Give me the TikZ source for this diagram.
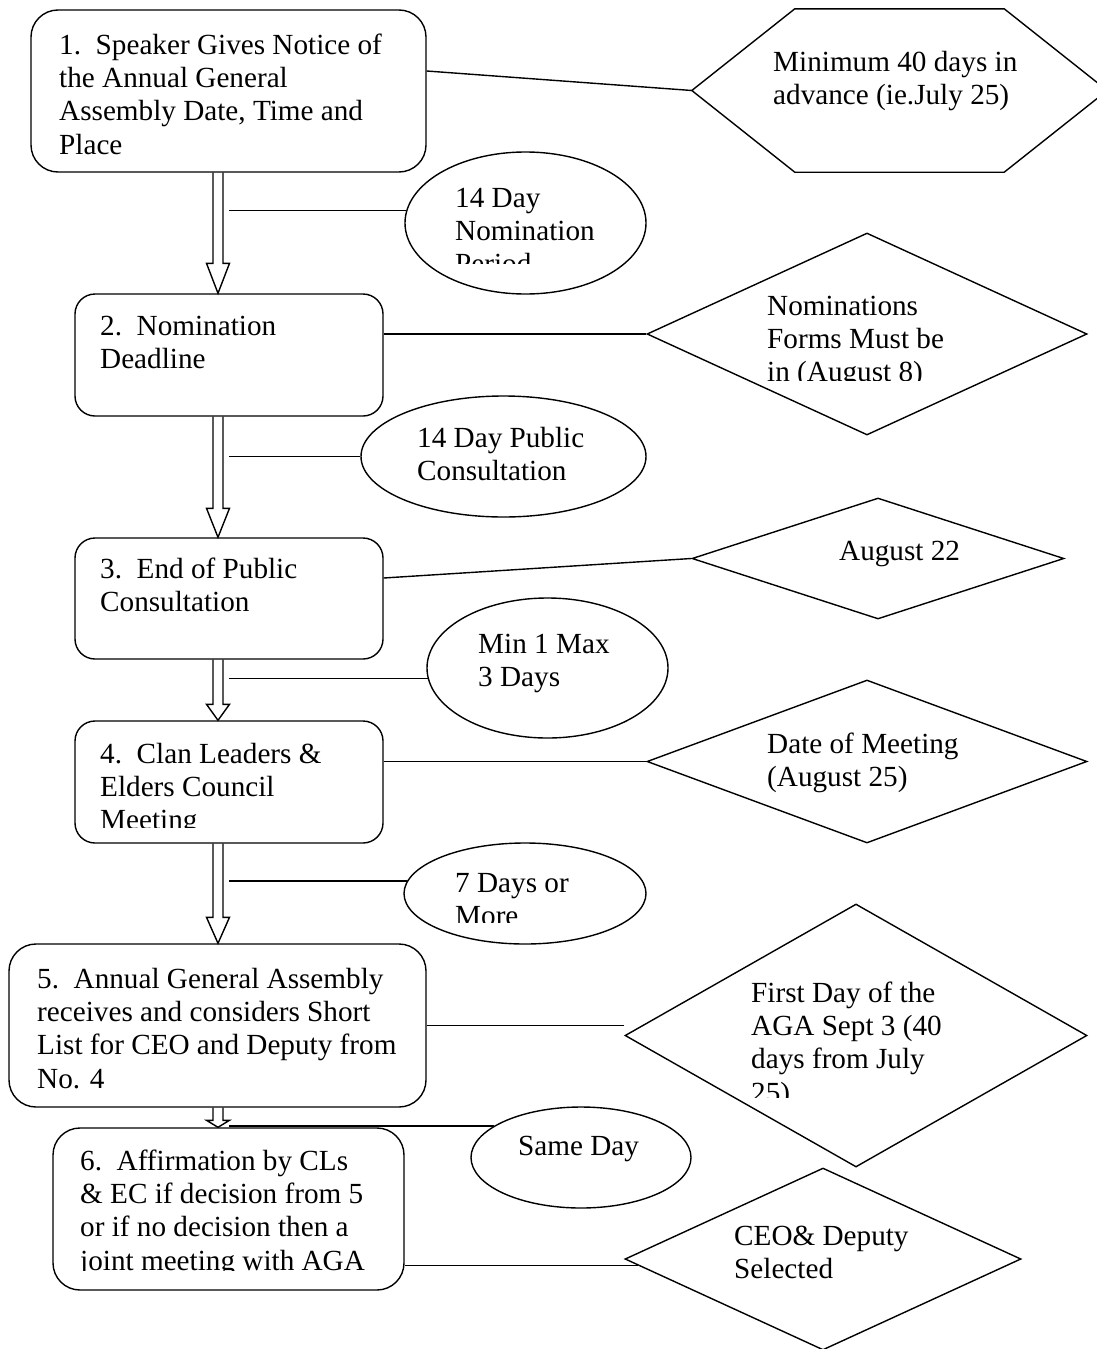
\documentclass[tikz,border=0pt]{standalone}
\usepackage{fontspec}
\setmainfont{Liberation Serif}
\usetikzlibrary{shapes.geometric,calc}
\newcommand\blockarrow[3]{%
  \draw[conn] ($(#1.south -| ax)+(-5,0)$) -- ($(#2.north -| ax)+(-5,-#3)$) -- ++(-6.5,0)
    -- (#2.north -| ax) -- ($(#2.north -| ax)+(11.5,-#3)$) -- ++(-6.5,0)
    -- ($(#1.south -| ax)+(5,0)$);}
\newcommand\topstrut{\rule{0pt}{24pt}}
\begin{document}
\begin{tikzpicture}[x=1pt,y=-1pt,
  conn/.style={line width=1.4pt, line join=miter},
  stepbox/.style={draw, line width=1.4pt, rectangle, inner sep=0pt},
  oval/.style={draw, line width=1.4pt, ellipse, inner sep=0pt},
  dia/.style={draw, line width=1.4pt, diamond, inner sep=0pt},
  txt/.style={anchor=north west, inner sep=0pt, align=left, font=\fontsize{29.2}{33.3}\selectfont}]
\useasboundingbox (0,0) rectangle (1097,1349);

% helper coordinates
\coordinate (ax) at (218,0);
\coordinate (sx) at (229,0);

% step boxes
\node[stepbox, rounded corners=27pt, minimum width=395pt, minimum height=162pt] (b1) at (228.5,91) {};
\node[stepbox, rounded corners=20pt, minimum width=308pt, minimum height=122pt] (b2) at (229,355) {};
\node[stepbox, rounded corners=20pt, minimum width=308pt, minimum height=121pt] (b3) at (229,598.5) {};
\node[stepbox, rounded corners=20pt, minimum width=308pt, minimum height=122pt] (b4) at (229,782) {};
\node[stepbox, rounded corners=27pt, minimum width=417pt, minimum height=163pt] (b5) at (217.5,1025.5) {};
\node[stepbox, rounded corners=27pt, minimum width=351pt, minimum height=162pt] (b6) at (228.5,1209) {};

% ellipses
\node[oval, minimum width=241pt, minimum height=142pt] (e1) at (525.5,223) {};
\node[oval, minimum width=285pt, minimum height=121pt] (e2) at (503.5,456.5) {};
\node[oval, minimum width=241pt, minimum height=140pt] (e3) at (547.5,668) {};
\node[oval, minimum width=242pt, minimum height=101pt] (e4) at (525,893.5) {};
\node[oval, minimum width=220pt, minimum height=101pt] (e5) at (581,1157.5) {};

% hexagon
\node[inner sep=0pt, minimum width=415pt, minimum height=163pt] (hx) at (899.5,90.5) {};
\draw[conn] (hx.west) -- ([xshift=103pt]hx.north west) -- ([xshift=-103pt]hx.north east)
  -- (hx.east) -- ([xshift=-103pt]hx.south east) -- ([xshift=103pt]hx.south west) -- cycle;

% diamonds
\node[dia, minimum width=440pt, minimum height=202pt] (d1) at (867,334) {};
\node[dia, minimum width=372pt, minimum height=121pt] (d2) at (878,558.5) {};
\node[dia, minimum width=440pt, minimum height=163pt] (d3) at (867,761.5) {};
\node[dia, minimum width=462pt, minimum height=263pt] (d4) at (856,1035.5) {};
\node[dia, minimum width=396pt, minimum height=182pt] (d5) at (823,1259) {};

% block arrows between steps
\blockarrow{b1}{b2}{30}
\blockarrow{b2}{b3}{29}
\blockarrow{b3}{b4}{16}
\blockarrow{b4}{b5}{26}
\blockarrow{b5}{b6}{7}

% lines from arrows to ellipses
\draw[conn] (e1.174.7 -| sx) -- (e1.174.7);
\draw[conn] (e2.west -| sx) -- (e2.west);
\draw[conn] (e3.185.8 -| sx) -- (e3.185.8);
\draw[conn] (e4.174.9 -| sx) -- (e4.174.9);
\draw[conn] (e5.160.9 -| sx) -- (e5.160.9);

% lines from boxes to hexagon / diamonds
\draw[conn] ([yshift=20pt]b1.east) -- (hx.west);
\draw[conn] (d1.west -| b2.east) -- (d1.west);
\draw[conn] ([yshift=20.5pt]b3.east) -- (d2.west);
\draw[conn] (d3.west -| b4.east) -- (d3.west);
\draw[conn] ([yshift=10pt]d4.west -| b5.east) -- ([yshift=10pt]d4.west);
\draw[conn] (d5.182.9 -| b6.east) -- (d5.182.9);

% texts
\node[txt] (tb1) at (59,30) {\topstrut 1.\ \ Speaker Gives Notice of\\the Annual General\\Assembly Date, Time and\\Place};
\node[txt] (thx) at (773,47) {\topstrut Minimum 40 days in\\advance (ie.July 25)};
\begin{scope}
  \clip (440,170) rectangle (660,263);
  \node[txt] (te1) at (455,183) {\topstrut 14 Day\\Nomination\\Period};
\end{scope}
\node[txt] (tb2) at (100,311) {\topstrut 2.\ \ Nomination\\Deadline};
\begin{scope}
  \clip (750,280) rectangle (1090,380);
  \node[txt] (td1) at (767,291) {\topstrut Nominations\\Forms Must be\\in (August 8)};
\end{scope}
\node[txt] (te2) at (417,423) {\topstrut 14 Day Public\\Consultation};
\node[txt] (tb3) at (100,554) {\topstrut 3.\ \ End of Public\\Consultation};
\node[txt] (td2) at (839,536) {\topstrut August 22};
\node[txt] (te3) at (478,629) {\topstrut Min 1 Max\\3 Days};
\begin{scope}
  \clip (90,730) rectangle (380,827);
  \node[txt] (tb4) at (100,739) {\topstrut 4.\ \ Clan Leaders \&\\Elders Council\\Meeting};
\end{scope}
\node[txt] (td3) at (767,729) {\topstrut Date of Meeting\\(August 25)};
\begin{scope}
  \clip (440,855) rectangle (660,922);
  \node[txt] (te4) at (455,868) {\topstrut 7 Days or\\More};
\end{scope}
\node[txt] (tb5) at (37,964) {\topstrut 5.\ \ Annual General Assembly\\receives and considers Short\\List for CEO and Deputy from\\No. 4};
\begin{scope}
  \clip (740,960) rectangle (1090,1097);
  \node[txt] (td4) at (751,978) {\topstrut First Day of the\\AGA Sept 3 (40\\days from July\\25)};
\end{scope}
\node[txt] (te5) at (518,1131) {\topstrut Same Day};
\begin{scope}
  \clip (60,1135) rectangle (400,1270);
  \node[txt] (tb6) at (80,1146) {\topstrut 6.\ \ Affirmation by CLs\\\&\ EC if decision from 5\\or if no decision then a\\joint meeting with AGA};
\end{scope}
\node[txt] (td5) at (734,1221) {\topstrut CEO\&\ Deputy\\Selected};
\end{tikzpicture}
\end{document}
